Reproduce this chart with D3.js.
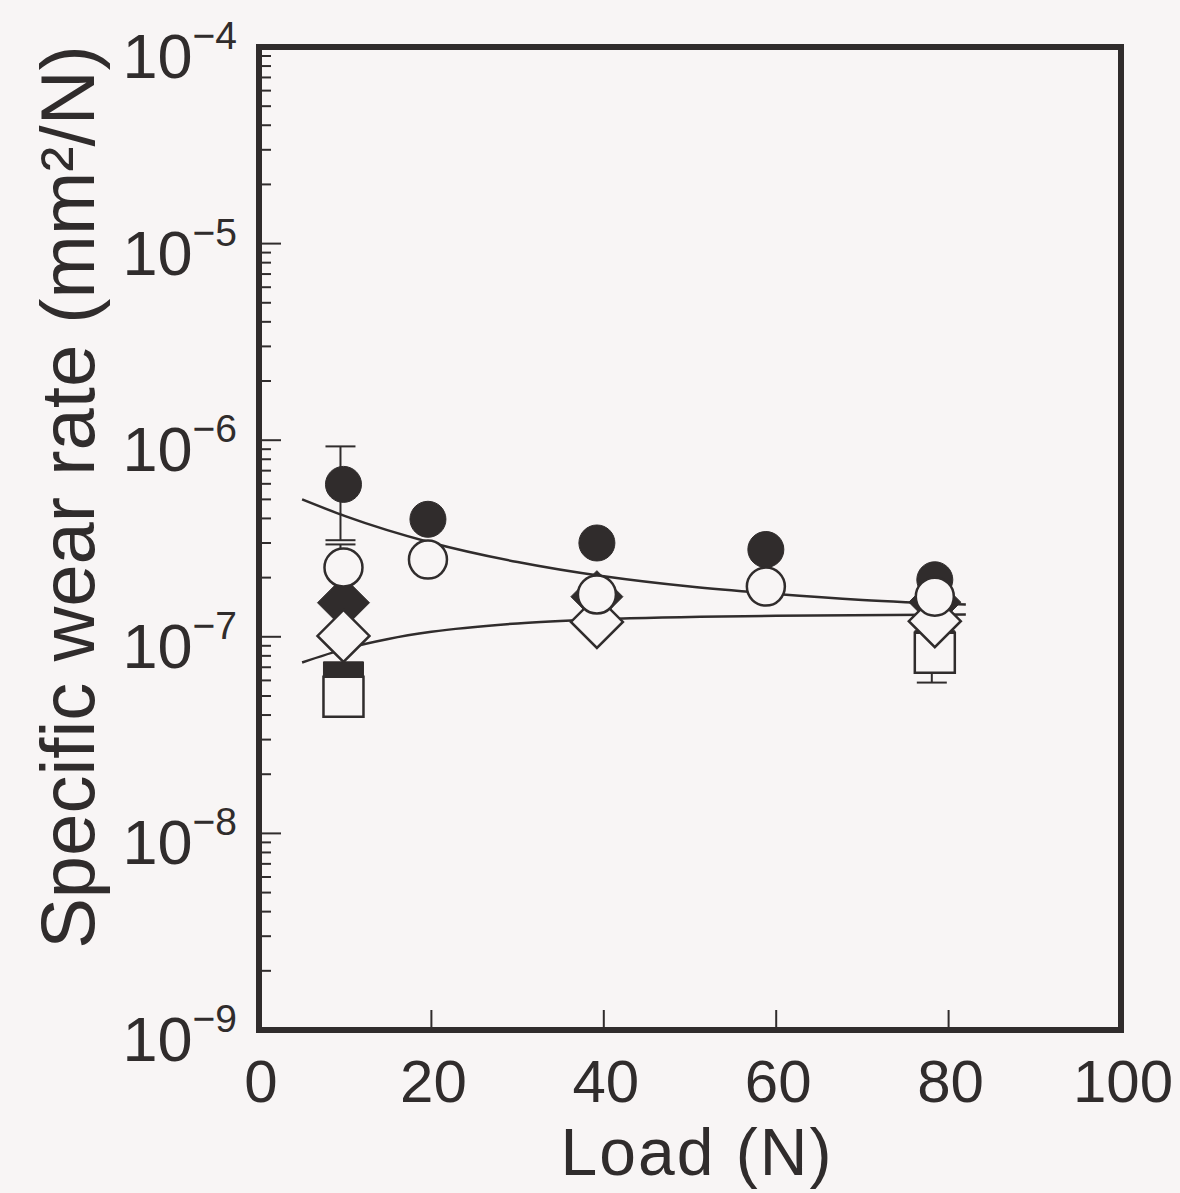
<!DOCTYPE html>
<html>
<head>
<meta charset="utf-8">
<script src="https://cdn.jsdelivr.net/npm/d3@7"></script>
<style>
  body { margin: 0; background: #f8f5f5; }
  svg { display: block; }
  text { font-family: "Liberation Sans", Arial, sans-serif; fill: #302c2c; }
</style>
</head>
<body>
<svg id="chart"></svg>
<script>
// loads (N) and specific wear rates (mm2/N)
var loads = [9.8, 19.6, 39.2, 58.8, 78.4];

var filledCircle = [5.96e-7, 3.96e-7, 3.0e-7, 2.78e-7, 1.95e-7];
var openCircle = [2.25e-7, 2.47e-7, 1.64e-7, 1.80e-7, 1.60e-7];

var diamondLoads = [9.8, 39.2, 78.4];
var filledDiamond = [1.49e-7, 1.60e-7, 1.50e-7];
var openDiamond = [1.01e-7, 1.19e-7, 1.20e-7];

var squareLoads = [9.8, 78.4];
var filledSquare = [5.9e-8, 8.5e-8];
var openSquare = [4.95e-8, 8.3e-8];

// error bars: load, low, high
var errLoads = [9.8, 9.8, 78.4];
var errLow = [3.1e-7, 1.6e-7, 5.85e-8];
var errHigh = [9.3e-7, 2.95e-7, 1.22e-7];

// fitted curves, read at a few loads
var upperLoads = [5, 10, 20, 30, 40, 50, 60, 70, 82];
var upperRate = [5.0e-7, 4.11e-7, 3.01e-7, 2.40e-7, 2.03e-7, 1.80e-7, 1.65e-7, 1.54e-7, 1.46e-7];
var lowerLoads = [5, 10, 15, 20, 30, 40, 60, 82];
var lowerRate = [7.4e-8, 8.68e-8, 9.75e-8, 1.06e-7, 1.17e-7, 1.23e-7, 1.28e-7, 1.30e-7];

var xTicks = [0, 20, 40, 60, 80, 100];
var yDecades = [-4, -5, -6, -7, -8, -9];

var W = 1180, H = 1193;
var ink = "#302c2c", paper = "#f8f5f5";

var svg = d3.select("#chart").attr("width", W).attr("height", H);

var x = d3.scaleLinear().domain([0, 100]).range([259, 1121]);
var y = d3.scaleLog().domain([1e-9, 1e-4]).range([1030, 47]);

// minor + major ticks on left axis, pointing inward
var minor = [];
yDecades.forEach(function(e) {
  if (e > -5) return;
  for (var k = 2; k <= 9; k++) minor.push(k * Math.pow(10, e));
});
svg.selectAll(".minor").data(minor).enter().append("line")
   .attr("x1", x(0)).attr("x2", x(0) + 12)
   .attr("y1", function(d) { return y(d); }).attr("y2", function(d) { return y(d); })
   .attr("stroke", ink).attr("stroke-width", 2);
svg.selectAll(".major").data(yDecades).enter().append("line")
   .attr("x1", x(0)).attr("x2", x(0) + 22)
   .attr("y1", function(d) { return y(Math.pow(10, d)); })
   .attr("y2", function(d) { return y(Math.pow(10, d)); })
   .attr("stroke", ink).attr("stroke-width", 2);
svg.selectAll(".xt").data(xTicks.slice(1, 5)).enter().append("line")
   .attr("x1", function(d) { return x(d); }).attr("x2", function(d) { return x(d); })
   .attr("y1", y(1e-9)).attr("y2", y(1e-9) - 20)
   .attr("stroke", ink).attr("stroke-width", 2);

// frame
svg.append("rect")
   .attr("x", x(0)).attr("y", y(1e-4))
   .attr("width", x(100) - x(0)).attr("height", y(1e-9) - y(1e-4))
   .attr("fill", "none").attr("stroke", ink).attr("stroke-width", 6);

// tick labels
svg.selectAll(".xl").data(xTicks).enter().append("text")
   .attr("x", function(d) { return x(d) + 2; }).attr("y", 1102)
   .attr("text-anchor", "middle").attr("font-size", 60)
   .text(function(d) { return d; });

var yl = svg.selectAll(".yl").data(yDecades).enter().append("text")
   .attr("x", 237).attr("y", function(d) { return y(Math.pow(10, d)) + 31; })
   .attr("text-anchor", "end").attr("font-size", 63);
yl.append("tspan").text("10");
yl.append("tspan").attr("dy", -29).attr("font-size", 39)
  .text(function(d) { return "\u2212" + (-d); });

// axis titles
svg.append("text").attr("x", 697).attr("y", 1175)
   .attr("text-anchor", "middle").attr("font-size", 66).attr("letter-spacing", 2)
   .text("Load (N)");
svg.append("text")
   .attr("transform", "translate(94,497) rotate(-90)")
   .attr("text-anchor", "middle").attr("font-size", 76)
   .text("Specific wear rate (mm\u00b2/N)");

// fitted curves
var line = d3.line()
  .x(function(d) { return x(d[0]); })
  .y(function(d) { return y(d[1]); })
  .curve(d3.curveMonotoneX);
svg.append("path").attr("d", line(d3.zip(upperLoads, upperRate)))
   .attr("fill", "none").attr("stroke", ink).attr("stroke-width", 2.5);
svg.append("path").attr("d", line(d3.zip(lowerLoads, lowerRate)))
   .attr("fill", "none").attr("stroke", ink).attr("stroke-width", 2.5);

// error bars
var errs = d3.zip(errLoads, errLow, errHigh);
var eb = svg.selectAll(".err").data(errs).enter().append("g");
eb.append("line")
  .attr("x1", function(d) { return x(d[0]) - 3; }).attr("x2", function(d) { return x(d[0]) - 3; })
  .attr("y1", function(d) { return y(d[1]); }).attr("y2", function(d) { return y(d[2]); })
  .attr("stroke", ink).attr("stroke-width", 2);
[1, 2].forEach(function(i) {
  eb.append("line")
    .attr("x1", function(d) { return x(d[0]) - 18; }).attr("x2", function(d) { return x(d[0]) + 12; })
    .attr("y1", function(d) { return y(d[i]); }).attr("y2", function(d) { return y(d[i]); })
    .attr("stroke", ink).attr("stroke-width", 2);
});

// markers
function drawSeries(xs, ys, shape, filled) {
  var r = filled ? 18 : 19;
  var sym = d3.symbol().type(shape).size(shape === d3.symbolCircle ? Math.PI * r * r : 40 * 40);
  svg.selectAll(null).data(d3.zip(xs, ys)).enter().append("path")
     .attr("d", shape === "diamond" ? "M0,-26L26,0L0,26L-26,0Z" : sym())
     .attr("transform", function(d) { return "translate(" + x(d[0]) + "," + y(d[1]) + ")"; })
     .attr("fill", filled ? ink : paper)
     .attr("stroke", ink).attr("stroke-width", filled ? 1 : 2.5);
}
drawSeries(loads, filledCircle, d3.symbolCircle, true);
drawSeries(diamondLoads, filledDiamond, "diamond", true);
drawSeries(squareLoads, filledSquare, d3.symbolSquare, true);
drawSeries(squareLoads, openSquare, d3.symbolSquare, false);
drawSeries(diamondLoads, openDiamond, "diamond", false);
drawSeries(loads, openCircle, d3.symbolCircle, false);
</script>
</body>
</html>
